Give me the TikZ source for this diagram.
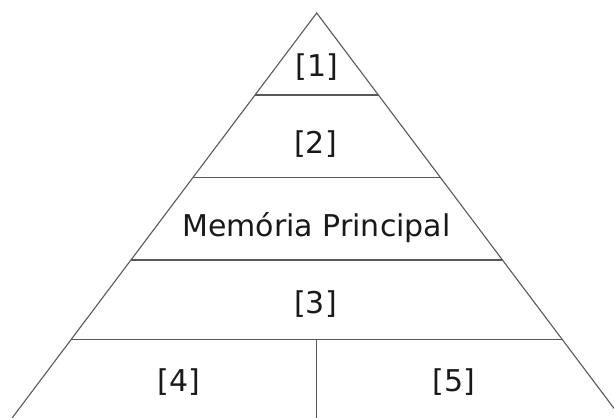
\documentclass[tikz,border=0pt]{standalone}
\usepackage{fontspec}
\setmainfont{DejaVu Sans}
\usetikzlibrary{calc}
\begin{document}
\begin{tikzpicture}[x=1pt,y=-1pt,
  edge/.style={draw=black!65,line width=1.1pt},
  lbl/.style={anchor=base,inner sep=0pt,font=\fontsize{30}{36}\selectfont,text=black!90}]
\useasboundingbox (0,0) rectangle (614,418);
\clip (0,0) rectangle (614,418);
\coordinate (apex) at (316.7,13);
\coordinate (bl) at (12.1,418);
\coordinate (br) at (621.3,418);
\coordinate (l1) at ($(apex)!0.2025!(bl)$);
\coordinate (r1) at ($(apex)!0.2025!(br)$);
\coordinate (l2) at ($(apex)!0.4067!(bl)$);
\coordinate (r2) at ($(apex)!0.4067!(br)$);
\coordinate (l3) at ($(apex)!0.6099!(bl)$);
\coordinate (r3) at ($(apex)!0.6099!(br)$);
\coordinate (l4) at ($(apex)!0.8057!(bl)$);
\coordinate (r4) at ($(apex)!0.8057!(br)$);
\coordinate (dtop) at (316.7,339.3);
\coordinate (dbot) at (316.7,418);
\draw[edge] (bl) -- (apex) -- (br);
\draw[edge] (l1) -- (r1);
\draw[edge] (l2) -- (r2);
\draw[edge] (l3) -- (r3);
\draw[edge] (l4) -- (r4);
\draw[edge] (dtop) -- (dbot);
\node[lbl] (t1) at (316.7,76.5) {[1]};
\node[lbl] (t2) at (315.5,153.5) {[2]};
\node[lbl] (tm) at (316.4,236) {Memória Principal};
\node[lbl] (t3) at (315.5,313.5) {[3]};
\node[lbl] (t4) at (179,391.5) {[4]};
\node[lbl] (t5) at (454,391.5) {[5]};
\end{tikzpicture}
\end{document}
